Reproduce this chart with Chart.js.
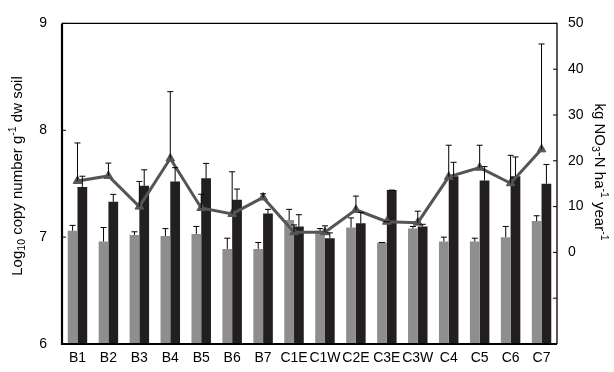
<!DOCTYPE html>
<html>
<head>
<meta charset="utf-8">
<script src="https://cdn.jsdelivr.net/npm/chart.js@4.4.1/dist/chart.umd.min.js"></script>
<style>
  body { margin: 0; background: #fff; }
</style>
</head>
<body>
<canvas id="myChart" width="614" height="372"></canvas>
<script>
// site labels
const sites = ['B1', 'B2', 'B3', 'B4', 'B5', 'B6', 'B7', 'C1E', 'C1W', 'C2E', 'C3E', 'C3W', 'C4', 'C5', 'C6', 'C7'];

// grey bars (log10 copy number) and upper error
const greyCopies = [7.06, 6.96, 7.02, 7.01, 7.03, 6.89, 6.89, 7.16, 7.06, 7.09, 6.95, 7.08, 6.96, 6.96, 7.00, 7.15];
const greyErr = [0.05, 0.13, 0.03, 0.07, 0.07, 0.10, 0.06, 0.10, 0.02, 0.09, 0.00, 0.02, 0.04, 0.03, 0.10, 0.05];

// black bars
const blackCopies = [7.47, 7.33, 7.48, 7.52, 7.55, 7.35, 7.22, 7.10, 6.99, 7.13, 7.44, 7.10, 7.57, 7.53, 7.57, 7.50];
const blackErr = [0.10, 0.07, 0.15, 0.13, 0.14, 0.10, 0.04, 0.11, 0.05, 0.10, 0.00, 0.02, 0.13, 0.13, 0.18, 0.18];

// nitrate line (kg NO3-N ha-1 year-1)
const nitrate = [15.6, 16.7, 10.0, 20.5, 9.7, 8.4, 12.0, 4.4, 4.4, 9.3, 6.7, 6.5, 16.5, 18.5, 15.1, 22.5];
const nitrateErr = [8.3, 2.8, 5.5, 14.6, 3.0, 9.2, 0.8, 1.6, 1.4, 3.0, 0.0, 2.5, 6.9, 4.9, 6.1, 23.0];

const leftTicks = [6, 7, 8, 9];
const rightTicks = [-20, -10, 0, 10, 20, 30, 40, 50];

const FONT = '"Liberation Sans", Arial, sans-serif';

// draws text with sub/superscripts, centred on (x, y), rotated
function drawRich(ctx, parts, x, y, rot, size) {
  ctx.save();
  ctx.translate(x, y);
  ctx.rotate(rot);
  ctx.fillStyle = '#000';
  ctx.textBaseline = 'middle';
  ctx.textAlign = 'left';
  let total = 0;
  parts.forEach(p => {
    ctx.font = (p.sub || p.sup ? size * 0.7 : size) + 'px ' + FONT;
    p.w = ctx.measureText(p.t).width;
    total += p.w;
  });
  let cx = -total / 2;
  parts.forEach(p => {
    ctx.font = (p.sub || p.sup ? size * 0.7 : size) + 'px ' + FONT;
    let dy = p.sub ? size * 0.3 : (p.sup ? -size * 0.35 : 0);
    ctx.fillText(p.t, cx, dy);
    cx += p.w;
  });
  ctx.restore();
}

const extras = {
  id: 'extras',
  afterDatasetsDraw(chart) {
    const ctx = chart.ctx;
    const area = chart.chartArea;

    // error bars (upwards only)
    ctx.save();
    ctx.strokeStyle = '#000';
    ctx.lineWidth = 1;
    chart.data.datasets.forEach((ds, i) => {
      const meta = chart.getDatasetMeta(i);
      const scale = chart.scales[ds.yAxisID];
      meta.data.forEach((el, j) => {
        const top = scale.getPixelForValue(ds.data[j] + ds.errUp[j]);
        const x = el.x;
        ctx.beginPath();
        ctx.moveTo(x, el.y);
        ctx.lineTo(x, top);
        ctx.moveTo(x - 3, top);
        ctx.lineTo(x + 3, top);
        ctx.stroke();
      });
    });
    ctx.restore();

    // frame
    ctx.save();
    ctx.strokeStyle = '#000';
    ctx.lineWidth = 1.3;
    ctx.beginPath();
    ctx.moveTo(area.left, area.top);
    ctx.lineTo(area.right, area.top);
    ctx.lineTo(area.right, area.bottom);
    ctx.stroke();
    ctx.lineWidth = 2.2;
    ctx.beginPath();
    ctx.moveTo(area.left, area.top);
    ctx.lineTo(area.left, area.bottom);
    ctx.lineTo(area.right, area.bottom);
    ctx.stroke();

    // inward tick marks
    ctx.lineWidth = 1;
    const yl = chart.scales.y, yr = chart.scales.y2;
    leftTicks.forEach(v => {
      const p = yl.getPixelForValue(v);
      ctx.beginPath();
      ctx.moveTo(area.left, p);
      ctx.lineTo(area.left + 4, p);
      ctx.stroke();
    });
    rightTicks.forEach(v => {
      const p = yr.getPixelForValue(v);
      ctx.beginPath();
      ctx.moveTo(area.right, p);
      ctx.lineTo(area.right - 4, p);
      ctx.stroke();
    });
    ctx.restore();

    // axis titles
    drawRich(ctx, [{t: 'Log'}, {t: '10', sub: true}, {t: ' copy number g'}, {t: '-1', sup: true}, {t: ' dw soil'}],
      18, 176, -Math.PI / 2, 15);
    drawRich(ctx, [{t: 'kg NO'}, {t: '3', sub: true}, {t: '-N ha'}, {t: '-1', sup: true}, {t: ' year'}, {t: '-1', sup: true}],
      599, 172, Math.PI / 2, 15);
  }
};

var ctx = document.getElementById('myChart').getContext('2d');
var myChart = new Chart(ctx, {
  type: 'bar',
  data: {
    labels: sites,
    datasets: [{
      type: 'line',
      label: 'Nitrate',
      data: nitrate,
      errUp: nitrateErr,
      yAxisID: 'y2',
      borderColor: '#555555',
      backgroundColor: '#555555',
      borderWidth: 3,
      pointStyle: 'triangle',
      pointRadius: 5,
      pointBorderWidth: 1,
      order: 0
    }, {
      label: 'Grey',
      data: greyCopies,
      errUp: greyErr,
      yAxisID: 'y',
      backgroundColor: '#8e8e8e',
      order: 1
    }, {
      label: 'Black',
      data: blackCopies,
      errUp: blackErr,
      yAxisID: 'y',
      backgroundColor: '#231f20',
      order: 1
    }]
  },
  options: {
    responsive: false,
    animation: false,
    events: [],
    layout: { padding: { top: 13, left: 0, right: 0, bottom: 0 } },
    datasets: {
      bar: { categoryPercentage: 0.63, barPercentage: 1.0, base: 6 }
    },
    plugins: {
      legend: { display: false },
      tooltip: { enabled: false }
    },
    scales: {
      x: {
        grid: { display: false, drawTicks: false },
        border: { display: false },
        ticks: { color: '#000', font: { family: FONT, size: 14 }, padding: 6, maxRotation: 0, autoSkip: false },
        afterFit(s) { s.height = 28; }
      },
      y: {
        position: 'left',
        min: 6,
        max: 9,
        grid: { display: false, drawTicks: false },
        border: { display: false },
        ticks: { stepSize: 1, color: '#000', font: { family: FONT, size: 14 }, padding: 15 },
        afterFit(s) { s.width = 62; }
      },
      y2: {
        position: 'right',
        min: -20,
        max: 50,
        grid: { display: false, drawTicks: false },
        border: { display: false },
        ticks: {
          stepSize: 10,
          color: '#000',
          font: { family: FONT, size: 14 },
          padding: 11,
          callback: v => (v < 0 ? '' : v)
        },
        afterFit(s) { s.width = 57; }
      }
    }
  },
  plugins: [extras]
});
</script>
</body>
</html>
